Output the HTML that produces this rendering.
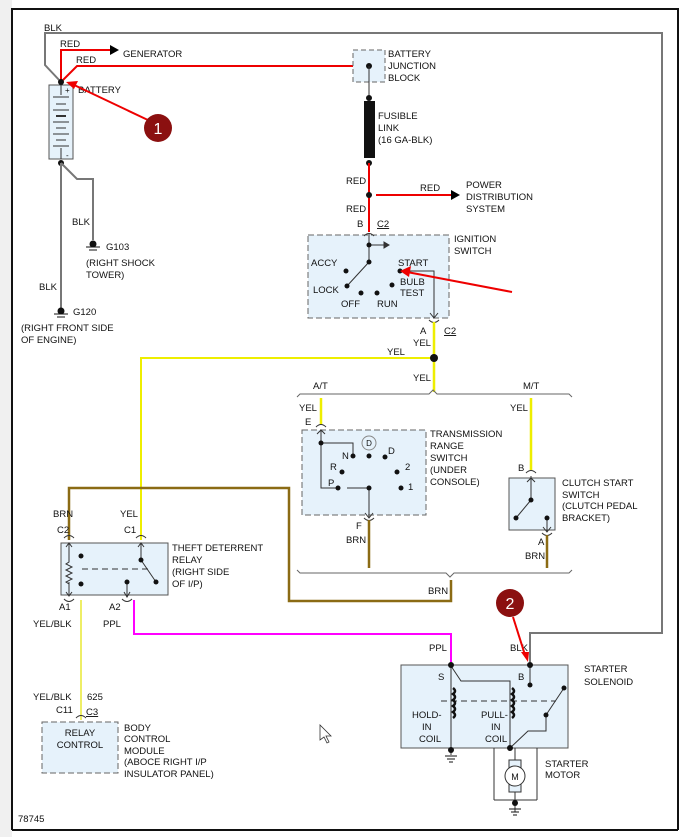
<!DOCTYPE html>
<html><head><meta charset="utf-8"><style>
html,body{margin:0;padding:0;background:#fff}
svg{display:block}
text{font-family:"Liberation Sans",sans-serif;font-size:9.5px;fill:#111}
</style></head><body>
<svg width="685" height="837" viewBox="0 0 685 837" xmlns="http://www.w3.org/2000/svg">
<rect x="0" y="0" width="685" height="837" fill="#fff"/>
<rect x="0" y="0" width="12" height="837" fill="#f0f0f0"/>
<line x1="12" y1="8" x2="12" y2="830" stroke="#111" stroke-width="2"/>
<line x1="12" y1="9" x2="678" y2="9" stroke="#111" stroke-width="2"/>
<line x1="678" y1="8" x2="678" y2="830" stroke="#111" stroke-width="2"/>
<line x1="12" y1="830" x2="678" y2="830" stroke="#111" stroke-width="2"/>

<!-- BLK wire big loop -->
<polyline points="61,82 45,65 45,33 662,33 662,633 530,633 530,662" fill="none" stroke="#777" stroke-width="2"/>
<!-- RED wires -->
<polyline points="61,82 61,50 110,50" fill="none" stroke="#e00" stroke-width="2"/>
<polygon points="110,45 119,50 110,55" fill="#000"/>
<polyline points="61,82 77,66 369,66" fill="none" stroke="#e00" stroke-width="2"/>
<text x="60" y="47">RED</text><text x="76" y="63">RED</text><text x="44" y="31">BLK</text>
<text x="123" y="57">GENERATOR</text>
<!-- battery -->
<rect x="49" y="85" width="24" height="74" fill="#e6f2fb" stroke="#555"/>
<g stroke="#333" stroke-width="1">
<line x1="61" y1="85" x2="61" y2="95"/>
<line x1="53" y1="97" x2="69" y2="97"/><line x1="56" y1="104" x2="66" y2="104"/>
<line x1="53" y1="110" x2="69" y2="110"/><line x1="56" y1="116" x2="66" y2="116" stroke-width="2"/>
<line x1="53" y1="122" x2="69" y2="122"/><line x1="56" y1="128" x2="66" y2="128"/>
<line x1="53" y1="134" x2="69" y2="134"/><line x1="56" y1="140" x2="66" y2="140"/>
<line x1="53" y1="146" x2="69" y2="146"/><line x1="61" y1="148" x2="61" y2="159"/>
</g>
<text x="65" y="93" style="font-size:8px">+</text><text x="66" y="158" style="font-size:8px">-</text>
<text x="78" y="93">BATTERY</text>
<circle cx="61" cy="82" r="3" fill="#111"/>
<circle cx="61" cy="163" r="3" fill="#111"/>
<polyline points="61,163 61,310" fill="none" stroke="#777" stroke-width="2"/>
<polyline points="61,163 77,179 93,179 93,240" fill="none" stroke="#777" stroke-width="2"/>
<text x="72" y="225">BLK</text><text x="39" y="290">BLK</text>
<!-- grounds -->
<g fill="#111" stroke="#111">
<circle cx="93" cy="244" r="3"/><line x1="86" y1="247" x2="100" y2="247"/><line x1="89" y1="250" x2="97" y2="250"/>
<circle cx="61" cy="311" r="3"/><line x1="54" y1="314" x2="68" y2="314"/><line x1="57" y1="317" x2="65" y2="317"/>
</g>
<text x="106" y="250">G103</text><text x="86" y="266">(RIGHT SHOCK</text><text x="86" y="278">TOWER)</text>
<text x="73" y="315">G120</text><text x="21" y="331">(RIGHT FRONT SIDE</text><text x="21" y="343">OF ENGINE)</text>

<!-- callout 1 -->
<line x1="150" y1="121" x2="72" y2="84" stroke="#e00" stroke-width="2"/>
<polygon points="66,82 78,81 74,89" fill="#e00"/>
<circle cx="158" cy="128" r="14" fill="#8b1010"/>
<text x="158" y="134" text-anchor="middle" style="font-size:16px;fill:#fff">1</text>

<!-- battery junction block -->
<rect x="353" y="50" width="32" height="32" fill="#e6f2fb" stroke="#666" stroke-dasharray="5,3"/>
<circle cx="369" cy="66" r="3" fill="#111"/>
<line x1="369" y1="66" x2="369" y2="98" stroke="#333"/>
<text x="388" y="57">BATTERY</text><text x="388" y="69">JUNCTION</text><text x="388" y="81">BLOCK</text>
<circle cx="369" cy="98" r="3" fill="#111"/>
<rect x="364" y="101" width="11" height="57" fill="#111"/>
<circle cx="369" cy="163" r="3" fill="#111"/>
<text x="378" y="119">FUSIBLE</text><text x="378" y="131">LINK</text><text x="378" y="143">(16 GA-BLK)</text>
<line x1="369" y1="163" x2="369" y2="232" stroke="#e00" stroke-width="2"/>
<circle cx="369" cy="195" r="3" fill="#111"/>
<line x1="376" y1="195" x2="452" y2="195" stroke="#e00" stroke-width="2"/>
<polygon points="451,190 460,195 451,200" fill="#000"/>
<text x="346" y="184">RED</text><text x="420" y="191">RED</text><text x="346" y="212">RED</text>
<text x="466" y="188">POWER</text><text x="466" y="200">DISTRIBUTION</text><text x="466" y="212">SYSTEM</text>
<text x="357" y="227">B</text><text x="377" y="227" text-decoration="underline">C2</text>

<!-- ignition switch -->
<rect x="308" y="235" width="141" height="83" fill="#e6f2fb" stroke="#666" stroke-dasharray="6,3"/>
<path d="M364,236 q5,-5 10,0" fill="none" stroke="#333"/>
<g stroke="#333" fill="none">
<polyline points="369,234 369,262 347,286"/>
<line x1="369" y1="245" x2="386" y2="245"/><polygon points="384,242 389,245 384,248" fill="#333"/>
<polyline points="400,271 434,271 434,318"/>
<polyline points="430,313 434,318 438,313"/>
</g>
<g fill="#111">
<circle cx="369" cy="245" r="2.5"/><circle cx="369" cy="262" r="2.5"/><circle cx="346" cy="271" r="2.5"/>
<circle cx="347" cy="286" r="2.5"/><circle cx="361" cy="293" r="2.5"/><circle cx="377" cy="293" r="2.5"/>
<circle cx="392" cy="285" r="2.5"/><circle cx="400" cy="271" r="2.5"/>
</g>
<text x="311" y="266">ACCY</text><text x="313" y="293">LOCK</text><text x="341" y="307">OFF</text><text x="377" y="307">RUN</text>
<text x="398" y="266">START</text><text x="400" y="285">BULB</text><text x="400" y="296">TEST</text>
<text x="454" y="242">IGNITION</text><text x="454" y="254">SWITCH</text>
<line x1="512" y1="292" x2="407" y2="272" stroke="#e00" stroke-width="2"/>
<polygon points="400,271 411,266 409,277" fill="#e00"/>

<!-- yellow -->
<path d="M429,320 q5,5 10,0" fill="none" stroke="#333"/>
<polyline points="434,322 434,392" fill="none" stroke="#ee0" stroke-width="2.5"/>
<polyline points="434,358 141,358 141,540" fill="none" stroke="#ee0" stroke-width="2"/>
<circle cx="434" cy="358" r="4" fill="#111"/>
<text x="420" y="334">A</text><text x="444" y="334" text-decoration="underline">C2</text>
<text x="413" y="346">YEL</text><text x="387" y="355">YEL</text><text x="413" y="381">YEL</text>

<!-- brace top -->
<path d="M297,397 l3,-3 H429 l4,-4 l4,4 H569 l3,3" fill="none" stroke="#666"/>
<text x="313" y="389">A/T</text><text x="523" y="389">M/T</text>
<line x1="321" y1="398" x2="321" y2="425" stroke="#ee0" stroke-width="2.5"/>
<line x1="531" y1="398" x2="531" y2="470" stroke="#ee0" stroke-width="2.5"/>
<text x="299" y="411">YEL</text><text x="510" y="411">YEL</text>
<text x="305" y="425">E</text>
<path d="M316,427 q5,-5 10,0" fill="none" stroke="#333"/>
<!-- trans range switch -->
<rect x="302" y="430" width="124" height="85" fill="#e6f2fb" stroke="#666" stroke-dasharray="6,3"/>
<g stroke="#333" fill="none">
<polyline points="321,430 321,488 338,488"/><polyline points="317,434 321,430 325,434"/>
<polyline points="321,443 353,443 353,456"/>
<polyline points="347,488 369,488 369,518"/><polyline points="365,513 369,518 373,513"/>
<circle cx="369" cy="443" r="7" stroke="#888"/>
</g>
<text x="369" y="446" text-anchor="middle" style="font-size:8px">D</text>
<g fill="#111">
<circle cx="321" cy="443" r="2.5"/><circle cx="353" cy="456" r="2.5"/><circle cx="369" cy="456" r="2.5"/>
<circle cx="385" cy="457" r="2.5"/><circle cx="342" cy="472" r="2.5"/><circle cx="397" cy="472" r="2.5"/>
<circle cx="338" cy="488" r="2.5"/><circle cx="369" cy="488" r="2.5"/><circle cx="401" cy="488" r="2.5"/>
</g>
<text x="342" y="459">N</text><text x="388" y="454">D</text><text x="330" y="470">R</text><text x="405" y="470">2</text>
<text x="328" y="486">P</text><text x="408" y="490">1</text>
<text x="430" y="437">TRANSMISSION</text><text x="430" y="449">RANGE</text><text x="430" y="461">SWITCH</text><text x="430" y="473">(UNDER</text><text x="430" y="485">CONSOLE)</text>
<path d="M364,518 q5,5 10,0" fill="none" stroke="#333"/>
<text x="356" y="529">F</text><text x="346" y="543">BRN</text>
<line x1="369" y1="520" x2="369" y2="568" stroke="#8b6b14" stroke-width="2.5"/>
<!-- clutch -->
<text x="518" y="471">B</text>
<path d="M526,473 q5,-5 10,0" fill="none" stroke="#333"/>
<rect x="509" y="478" width="46" height="52" fill="#e6f2fb" stroke="#555"/>
<g stroke="#333" fill="none">
<line x1="531" y1="476" x2="531" y2="500"/><polyline points="527,482 531,478 535,482"/>
<line x1="531" y1="500" x2="516" y2="518"/>
<line x1="547" y1="518" x2="547" y2="532"/><polyline points="543,527 547,532 551,527"/>
</g>
<g fill="#111"><circle cx="531" cy="500" r="2.5"/><circle cx="516" cy="518" r="2.5"/><circle cx="547" cy="518" r="2.5"/></g>
<path d="M542,533 q5,5 10,0" fill="none" stroke="#333"/>
<text x="562" y="486">CLUTCH START</text><text x="562" y="498">SWITCH</text><text x="562" y="509">(CLUTCH PEDAL</text><text x="562" y="521">BRACKET)</text>
<text x="538" y="545">A</text><text x="525" y="559">BRN</text>
<line x1="547" y1="535" x2="547" y2="568" stroke="#8b6b14" stroke-width="2.5"/>
<!-- brace bottom -->
<path d="M297,570 l3,3 H446 l4,4 l4,-4 H569 l3,-3" fill="none" stroke="#666"/>
<polyline points="451,580 451,601 289,601 289,488 69,488 69,540" fill="none" stroke="#8b6b14" stroke-width="2.5"/>
<text x="428" y="594">BRN</text>

<!-- theft relay -->
<text x="53" y="517">BRN</text><text x="120" y="517">YEL</text>
<text x="57" y="533">C2</text><text x="124" y="533">C1</text>
<path d="M64,538 q5,-5 10,0" fill="none" stroke="#333"/><path d="M136,538 q5,-5 10,0" fill="none" stroke="#333"/>
<rect x="61" y="543" width="107" height="52" fill="#e6f2fb" stroke="#555"/>
<g stroke="#333" fill="none">
<polyline points="69,543 69,562 66,564 72,567 66,570 72,573 66,576 72,579 66,582 69,584 69,596"/>
<line x1="69" y1="582" x2="69" y2="596"/>
<polyline points="66,547 69,543 72,547"/><polyline points="66,592 69,596 72,592"/>
<line x1="82" y1="569" x2="150" y2="569" stroke-dasharray="6,4"/>
<polyline points="141,543 141,560 156,582"/><polyline points="138,547 141,543 144,547"/>
<line x1="127" y1="582" x2="127" y2="597"/><polyline points="124,592 127,597 130,592"/>
</g>
<g fill="#111"><circle cx="81" cy="556" r="2.5"/><circle cx="81" cy="584" r="2.5"/><circle cx="141" cy="560" r="2.5"/><circle cx="156" cy="582" r="2.5"/><circle cx="127" cy="582" r="2.5"/></g>
<text x="172" y="551">THEFT DETERRENT</text><text x="172" y="563">RELAY</text><text x="172" y="575">(RIGHT SIDE</text><text x="172" y="587">OF I/P)</text>
<path d="M64,599 q5,5 10,0" fill="none" stroke="#333"/><path d="M122,599 q5,5 10,0" fill="none" stroke="#333"/>
<text x="59" y="610">A1</text><text x="109" y="610">A2</text>
<text x="33" y="627">YEL/BLK</text><text x="103" y="627">PPL</text>
<line x1="81" y1="600" x2="81" y2="720" stroke="#ee6" stroke-width="2"/>
<polyline points="134,600 134,634 451,634 451,662" fill="none" stroke="#f0f" stroke-width="2"/>
<!-- BCM -->
<text x="33" y="700">YEL/BLK</text><text x="87" y="700">625</text>
<text x="56" y="713">C11</text><text x="86" y="715" text-decoration="underline">C3</text>
<path d="M76,718 q5,-5 10,0" fill="none" stroke="#333"/>
<rect x="42" y="722" width="76" height="51" fill="#e6f2fb" stroke="#666" stroke-dasharray="6,3"/>
<text x="80" y="736" text-anchor="middle">RELAY</text><text x="80" y="748" text-anchor="middle">CONTROL</text>
<text x="124" y="731">BODY</text><text x="124" y="742">CONTROL</text><text x="124" y="754">MODULE</text><text x="124" y="765">(ABOCE RIGHT I/P</text><text x="124" y="777">INSULATOR PANEL)</text>
<text x="18" y="822">78745</text>
<!-- cursor -->
<polygon points="320,725 320,740 324,737 327,743 329,742 326,736 331,736" fill="#fff" stroke="#333" stroke-width="0.8"/>

<!-- starter solenoid -->
<text x="429" y="651">PPL</text><text x="510" y="651">BLK</text>
<rect x="401" y="665" width="167" height="83" fill="#e6f2fb" stroke="#555"/>
<g stroke="#333" fill="none">
<line x1="451" y1="662" x2="451" y2="755"/>
<polyline points="451,666 461,681 510,681 510,748"/>
<line x1="530" y1="662" x2="530" y2="685"/>
<line x1="441" y1="701" x2="556" y2="701" stroke-dasharray="6,4"/>
<polyline points="564,688 546,715 546,731 528,731 510,748"/>
<line x1="494" y1="748" x2="494" y2="800"/><line x1="537" y1="748" x2="537" y2="800"/><line x1="494" y1="800" x2="537" y2="800"/>
<line x1="515" y1="748" x2="515" y2="812"/>
</g>
<g stroke="#111" stroke-width="2.5" fill="none">
<path d="M453,688 q4,3 0,6 q4,3 0,6 q4,3 0,6 q4,3 0,6 q4,3 0,6"/>
<path d="M512,688 q4,3 0,6 q4,3 0,6 q4,3 0,6 q4,3 0,6 q4,3 0,6"/>
</g>
<g fill="#111"><circle cx="451" cy="665" r="3"/><circle cx="530" cy="665" r="3"/><circle cx="530" cy="685" r="2.5"/><circle cx="564" cy="688" r="2.5"/><circle cx="546" cy="715" r="2.5"/><circle cx="451" cy="750" r="3"/><circle cx="510" cy="748" r="3"/><circle cx="515" cy="803" r="3"/></g>
<rect x="509" y="760" width="12" height="32" fill="#e6f2fb" stroke="#333"/>
<circle cx="515" cy="776" r="10" fill="#fff" stroke="#333"/>
<text x="515" y="780" text-anchor="middle" style="font-size:9px">M</text>
<g stroke="#111"><line x1="445" y1="756" x2="457" y2="756"/><line x1="447" y1="759" x2="455" y2="759"/><line x1="449" y1="762" x2="453" y2="762"/>
<line x1="509" y1="809" x2="521" y2="809"/><line x1="511" y1="812" x2="519" y2="812"/><line x1="513" y1="815" x2="517" y2="815"/></g>
<text x="438" y="680">S</text><text x="518" y="680">B</text>
<text x="412" y="718">HOLD-</text><text x="422" y="730">IN</text><text x="419" y="742">COIL</text>
<text x="481" y="718">PULL-</text><text x="491" y="730">IN</text><text x="485" y="742">COIL</text>
<text x="584" y="672">STARTER</text><text x="584" y="685">SOLENOID</text>
<text x="545" y="767">STARTER</text><text x="545" y="778">MOTOR</text>
<!-- callout 2 -->
<line x1="513" y1="617" x2="525" y2="655" stroke="#e00" stroke-width="2"/>
<polygon points="521,652 529,652 528,662" fill="#e00"/>
<circle cx="510" cy="603" r="14" fill="#8b1010"/>
<text x="510" y="609" text-anchor="middle" style="font-size:16px;fill:#fff">2</text>
</svg>
</body></html>
